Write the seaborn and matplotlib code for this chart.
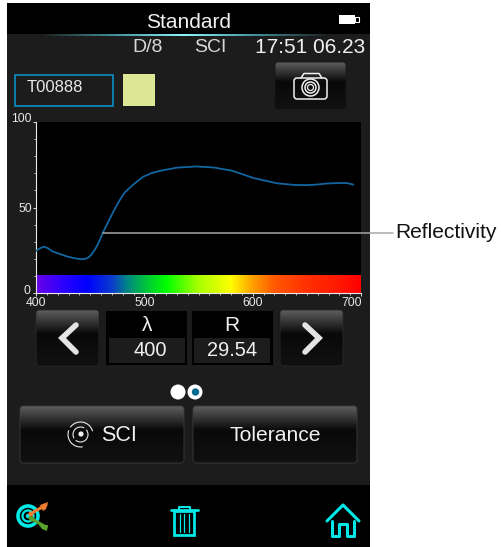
import numpy as np
import pandas as pd
import matplotlib
matplotlib.use("Agg")
import matplotlib.pyplot as plt
import seaborn as sns
from matplotlib.colors import LinearSegmentedColormap
from matplotlib.patches import Rectangle, FancyBboxPatch, Circle, Polygon, Arc
from matplotlib.ticker import MultipleLocator
from matplotlib.transforms import ScaledTranslation

# ---------- data ----------
wavelength = [400, 403, 407, 411, 415, 422, 429, 435, 441, 445, 448, 451, 455, 459, 462, 467, 472,
              477, 482, 490, 499, 507, 515, 530, 548, 564, 581, 601, 622, 638, 650, 659, 668, 678,
              687, 693]
reflectance = [24.6, 25.9, 27.1, 26.2, 24.4, 22.8, 21.3, 20.4, 19.8, 19.9, 20.6, 22.3, 26.0, 31.0,
               35.7, 42.0, 48.3, 54.0, 58.9, 63.5, 68.0, 70.2, 71.5, 73.3, 74.0, 73.4, 71.5, 67.2,
               64.2, 63.2, 63.1, 63.4, 64.0, 64.3, 64.3, 63.4]
x_ticks = [400, 500, 600, 700]
y_ticks = [0, 50, 100]
spectrum_colors = ["#6a00e8", "#2a00ff", "#0000ff", "#0a3ccc", "#008a80", "#00c040", "#00ff00",
                   "#a8ff00", "#ffff00", "#ffa000", "#ff5a00", "#ff3000", "#ff1800", "#ff0000"]
spectrum_stops = [400, 425, 447, 470, 485, 500, 520, 550, 580, 600, 620, 650, 680, 700]

title_text = "Standard"
mode_labels = ["D/8", "SCI", "17:51 06.23"]
sample_name = "T00888"
readout_heads = ["λ", "R"]
readout_values = ["400", "29.54"]
button_labels = ["SCI", "Tolerance"]
callout_label = "Reflectivity"

sns.set_theme(style="white")
plt.rcParams["font.family"] = ["Liberation Sans", "DejaVu Sans"]

W, H = 501, 547
fig = plt.figure(figsize=(W / 100, H / 100), dpi=100, facecolor="white")

# ---------- device chrome in pixel space ----------
ui = fig.add_axes([0, 0, 1, 1], zorder=1)
ui.set_xlim(0, W); ui.set_ylim(H, 0); ui.axis("off"); ui.set_autoscale_on(False)

PANEL = "#1c1c1c"
TXT = "#f0f0f0"
ui.add_patch(Rectangle((7, 3), 363, 544, fc=PANEL, ec="none"))
ui.add_patch(Rectangle((7, 3), 363, 31, fc="black", ec="none"))
ui.add_patch(Rectangle((7, 485), 363, 62, fc="black", ec="none"))

# header glow line
glow = LinearSegmentedColormap.from_list("g", ["#1c1c1c", "#3f8f96", "#8ff4ff", "#3f8f96", "#1c1c1c"])
ui.imshow(np.linspace(0, 1, 256)[None, :], cmap=glow, extent=(40, 330, 35.6, 34), aspect="auto", zorder=2)

# battery
ui.add_patch(Rectangle((339, 14.5), 16, 9, fc="white", ec="none", zorder=3))
ui.add_patch(Rectangle((355, 16.5), 4, 5, fc="black", ec="white", lw=0.8, zorder=3))

ui.text(188.5, 22.5, title_text, color=TXT, fontsize=15, ha="center", va="center")
ui.text(148, 47, mode_labels[0], color="#d8d8d8", fontsize=14, ha="center", va="center")
ui.text(210, 47, mode_labels[1], color="#d8d8d8", fontsize=14, ha="center", va="center")
ui.text(310, 47.5, mode_labels[2], color=TXT, fontsize=15, ha="center", va="center")

# sample name box and swatch
ui.add_patch(Rectangle((15.5, 74.5), 98, 31, fc="none", ec="#0a8fc4", lw=1.2))
ui.text(27, 87.5, sample_name, color="#e8e8e8", fontsize=12, ha="left", va="center")
ui.add_patch(Rectangle((123, 74), 32, 32, fc="#dde695", ec="none"))

btn_cmap = LinearSegmentedColormap.from_list(
    "b", [(0, "#5e5e5e"), (0.42, "#090909"), (1, "#111111")])


def button(x0, y0, x1, y1, edge="#3c3c3c"):
    box = FancyBboxPatch((x0 + 2, y0 + 2), x1 - x0 - 4, y1 - y0 - 4,
                         boxstyle="round,pad=2,rounding_size=3", fc="none", ec=edge, lw=0.6, zorder=3)
    ui.add_patch(box)
    im = ui.imshow(np.linspace(0, 1, 128)[:, None], cmap=btn_cmap, extent=(x0, x1, y1, y0),
                   aspect="auto", zorder=2)
    im.set_clip_path(box)


button(275, 62, 346, 109, edge="#161616")
button(36, 310, 99, 366, edge="#2a2a2a")
button(280, 310, 343, 366, edge="#2a2a2a")
button(20, 406, 184, 463)
button(193, 406, 357, 463)
ui.add_patch(Rectangle((99, 308), 8, 60, fc=PANEL, ec="none", zorder=4))
ui.add_patch(Rectangle((272, 308), 8, 60, fc=PANEL, ec="none", zorder=4))
ui.set_xlim(0, W); ui.set_ylim(H, 0)

# camera icon
ui.add_patch(FancyBboxPatch((294, 78), 33, 21, boxstyle="round,pad=0,rounding_size=3",
                            fc="none", ec="#f0f0f0", lw=1.1, zorder=5))
ui.plot([301, 304, 319, 322], [78, 73.5, 73.5, 78], color="#f0f0f0", lw=1.1, zorder=5)
for r, lw in [(8.5, 1.1), (5.5, 1.1), (3, 0.9)]:
    ui.add_patch(Circle((310.5, 87.5), r, fc="none", ec="#f0f0f0", lw=lw, zorder=6))

# read-out boxes
for x0, x1, ix0, ix1, head, val, hx, vx in [(106, 187, 109, 185, readout_heads[0], readout_values[0], 147, 150),
                                            (192, 273, 194, 270, readout_heads[1], readout_values[1], 231.5, 232)]:
    ui.add_patch(Rectangle((x0, 311), x1 - x0, 54, fc="black", ec="none", zorder=5))
    ui.add_patch(Rectangle((ix0, 338), ix1 - ix0, 24.5, fc=PANEL, ec="none", zorder=6))
    ui.text(hx, 325.5, head, color=TXT, fontsize=15, ha="center", va="center", zorder=7)
    ui.text(vx, 351, val, color=TXT, fontsize=14.4, ha="center", va="center", zorder=7)

# arrows
ui.plot([76, 62, 76], [325, 338, 352], color="#e4e4e4", lw=4, solid_capstyle="round",
        solid_joinstyle="miter", zorder=7)
ui.plot([305, 319, 305], [325, 338, 352], color="#e4e4e4", lw=4, solid_capstyle="round",
        solid_joinstyle="miter", zorder=7)

# page dots
ui.add_patch(Circle((178, 392), 7.5, fc="white", ec="none", zorder=5))
ui.add_patch(Circle((195, 392), 7.5, fc="white", ec="none", zorder=5))
ui.add_patch(Circle((195.5, 392), 3.7, fc="#006a90", ec="none", zorder=6))

# buttons' captions
ui.text(119, 435.5, button_labels[0], color=TXT, fontsize=15.5, ha="center", va="center", zorder=7)
ui.text(275.5, 435.5, button_labels[1], color=TXT, fontsize=15.2, ha="center", va="center", zorder=7)

# SCI icon
for r, a0, a1 in [(12.5, 80, 200), (12.5, 215, 345), (7.5, -40, 130), (7.5, 150, 300)]:
    ui.add_patch(Arc((80.5, 434.5), 2 * r, 2 * r, theta1=a0, theta2=a1, ec="#e8e8e8", lw=0.8, zorder=7))
ui.add_patch(Circle((81, 434), 2.6, fc="#f0f0f0", ec="none", zorder=7))

# target icon
CY = "#00e8e8"
ui.add_patch(Circle((28, 516), 10, fc="none", ec=CY, lw=2.6, zorder=5))
ui.add_patch(Circle((28, 516), 5.5, fc="none", ec=CY, lw=1.6, zorder=5))
ui.add_patch(Circle((28, 516), 2.2, fc=CY, ec="none", zorder=5))
ui.plot([30, 46], [514, 505], color="#ef7d32", lw=2.2, zorder=6)
ui.add_patch(Polygon([(40, 505), (48, 502), (46, 509), (43, 511)], fc="#ef7d32", ec="none", zorder=6))
ui.plot([30, 46], [518, 527], color="#5aa02c", lw=2.2, zorder=6)
ui.add_patch(Polygon([(39, 525), (48, 525), (47, 531), (42, 529)], fc="#5aa02c", ec="none", zorder=6))
ui.add_patch(Circle((31, 514), 2.5, fc="#ef7d32", ec="none", zorder=6))
ui.add_patch(Circle((32, 519), 2.5, fc="#5aa02c", ec="none", zorder=6))

# trash icon
ui.plot([171, 198], [510, 510], color=CY, lw=2, zorder=5)
ui.plot([179, 179, 190, 190], [510, 506.5, 506.5, 510], color=CY, lw=1.5, zorder=5)
ui.add_patch(Rectangle((174.5, 511), 20, 23.5, fc="none", ec=CY, lw=2, zorder=5))
for xv in [180, 184.5, 189]:
    ui.plot([xv, xv], [514, 532], color=CY, lw=0.9, zorder=5)

# home icon
ui.plot([327, 343, 359], [521, 505, 521], color=CY, lw=2.2, zorder=5)
ui.plot([332, 332, 339, 339, 347, 347, 354, 354], [521, 536, 536, 524, 524, 536, 536, 521],
        color=CY, lw=2.2, zorder=5)

# ---------- the chart ----------
L, R, T, B = 36, 361, 122, 293
ax = fig.add_axes([L / W, 1 - B / H, (R - L) / W, (B - T) / H], zorder=2, facecolor="black")
df = pd.DataFrame({"wavelength": wavelength, "reflectance": reflectance})
grad = np.linspace(400, 700, 512)[None, :]
cmap = LinearSegmentedColormap.from_list(
    "spec", [((s - 400) / 300, c) for s, c in zip(spectrum_stops, spectrum_colors)])
ax.imshow(grad, cmap=cmap, extent=(400, 700, 0, 10.5), aspect="auto", zorder=1)
sns.lineplot(data=df, x="wavelength", y="reflectance", ax=ax, color="#1266a0", lw=1.3, zorder=3)
ax.set_xlim(400, 700)
ax.set_ylim(0, 99.5)
ax.set_xlabel(""); ax.set_ylabel("")
ax.set_xticks(x_ticks); ax.set_yticks(y_ticks)
ax.xaxis.set_minor_locator(MultipleLocator(10))
ax.yaxis.set_minor_locator(MultipleLocator(10))
ax.tick_params(which="major", length=2.2, width=0.7, color="#e0e0e0", labelcolor="#e8e8e8",
               labelsize=8.8, pad=0.8, left=True, bottom=True)
ax.tick_params(which="minor", length=1.5, width=0.6, color="#d8d8d8", left=True, bottom=True)
for side in ["top", "right"]:
    ax.spines[side].set_visible(False)
for side in ["left", "bottom"]:
    ax.spines[side].set_color("#e8e8e8")
    ax.spines[side].set_linewidth(0.8)
ax.spines["bottom"].set_zorder(4)


def nudge(label, dx_px, dy_px):
    label.set_transform(label.get_transform() + ScaledTranslation(dx_px / 100, dy_px / 100, fig.dpi_scale_trans))


ylabels = ax.get_yticklabels()
nudge(ylabels[0], -1, 3)
nudge(ylabels[2], 0, 4)
nudge(ax.get_xticklabels()[3], -9, 0)
for lab in ax.get_xticklabels():
    lab.set_clip_on(False)

# callout line
top = fig.add_axes([0, 0, 1, 1], zorder=3, facecolor="none")
top.set_xlim(0, W); top.set_ylim(H, 0); top.axis("off")
top.plot([103, 393], [233.2, 233.2], color="#a8a8a8", lw=1.1)
top.text(395, 232, callout_label, color="#111111", fontsize=15.1, ha="left", va="center")

fig.savefig("out.png", dpi=100, facecolor="white")
